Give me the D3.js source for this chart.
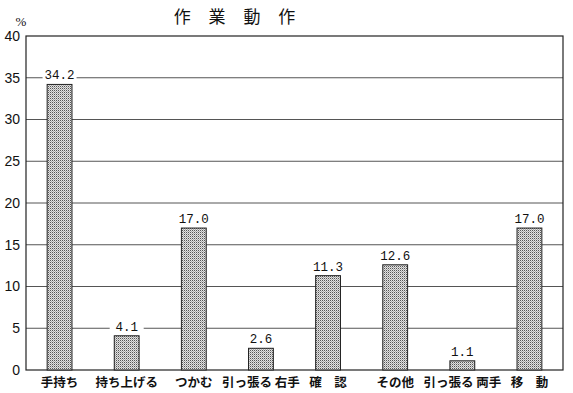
<!DOCTYPE html>
<html>
<head>
<meta charset="utf-8">
<script src="https://cdn.jsdelivr.net/npm/d3@7"></script>
<style>
  body { margin: 0; background: #fff; }
</style>
</head>
<body>
<div id="chart"></div>
<script>
const categories = ['手持ち', '持ち上げる', 'つかむ', '引っ張る 右手', '確　認', 'その他', '引っ張る 両手', '移　動'];
const values = [34.2, 4.1, 17.0, 2.6, 11.3, 12.6, 1.1, 17.0];
const yTicks = [0, 5, 10, 15, 20, 25, 30, 35, 40];
const title = '作 業 動 作';

const width = 573, height = 393;
const margin = {top: 36, right: 10, bottom: 23, left: 26};
const plotW = width - margin.left - margin.right;
const plotH = height - margin.top - margin.bottom;

const svg = d3.select('#chart').append('svg')
  .attr('width', width)
  .attr('height', height);

// dithered grey fill like the print
const defs = svg.append('defs');
const pat = defs.append('pattern')
  .attr('id', 'dots')
  .attr('width', 2).attr('height', 2)
  .attr('patternUnits', 'userSpaceOnUse');
pat.append('rect').attr('width', 2).attr('height', 2).attr('fill', '#e2e2e2');
pat.append('rect').attr('width', 1).attr('height', 1).attr('fill', '#555');
pat.append('rect').attr('x', 1).attr('y', 1).attr('width', 1).attr('height', 1).attr('fill', '#aaa');

const g = svg.append('g')
  .attr('transform', `translate(${margin.left},${margin.top})`);

const x = d3.scaleBand()
  .domain(categories)
  .range([0, plotW])
  .paddingInner(0.63)
  .paddingOuter(0.315);

const y = d3.scaleLinear()
  .domain([0, 40])
  .range([plotH, 0]);

// gridlines
g.append('g')
  .selectAll('line')
  .data(yTicks.filter(d => d > 0 && d < 40))
  .enter().append('line')
  .attr('x1', 0).attr('x2', plotW)
  .attr('y1', d => y(d)).attr('y2', d => y(d))
  .attr('stroke', '#555')
  .attr('stroke-width', 1);

// frame
g.append('rect')
  .attr('x', 0).attr('y', 0)
  .attr('width', plotW).attr('height', plotH)
  .attr('fill', 'none')
  .attr('stroke', '#222')
  .attr('stroke-width', 1.2);

// y axis
const yAxis = g.append('g')
  .call(d3.axisLeft(y).tickValues(yTicks).tickSize(0).tickPadding(6));
yAxis.select('.domain').remove();
yAxis.selectAll('text')
  .attr('font-family', 'Liberation Sans, Arial, sans-serif')
  .attr('font-size', 14)
  .attr('fill', '#111');

svg.append('text')
  .attr('x', 21).attr('y', 26)
  .attr('text-anchor', 'middle')
  .attr('font-family', 'Liberation Serif, serif')
  .attr('font-size', 13)
  .attr('fill', '#111')
  .text('%');

// bars
g.selectAll('.bar')
  .data(values)
  .enter().append('rect')
  .attr('class', 'bar')
  .attr('x', (d, i) => x(categories[i]))
  .attr('width', x.bandwidth())
  .attr('y', d => y(d))
  .attr('height', d => plotH - y(d))
  .attr('fill', 'url(#dots)')
  .attr('stroke', '#222')
  .attr('stroke-width', 1);

// value labels with white backing so gridlines break around them
const labels = g.selectAll('.val')
  .data(values)
  .enter().append('g')
  .attr('class', 'val')
  .attr('transform', (d, i) => `translate(${x(categories[i]) + x.bandwidth() / 2},${y(d) - 5})`);

labels.append('rect')
  .attr('x', -17).attr('y', -12)
  .attr('width', 34).attr('height', 14)
  .attr('fill', '#fff');

labels.append('text')
  .attr('text-anchor', 'middle')
  .attr('font-family', 'Liberation Mono, DejaVu Sans Mono, monospace')
  .attr('font-size', 12.5)
  .attr('fill', '#111')
  .text(d => d.toFixed(1));

// category labels
g.append('g')
  .selectAll('text')
  .data(categories)
  .enter().append('text')
  .attr('x', d => x(d) + x.bandwidth() / 2)
  .attr('y', plotH + 17)
  .attr('text-anchor', 'middle')
  .attr('font-family', 'Noto Sans CJK JP, sans-serif')
  .attr('font-size', 12.5)
  .attr('font-weight', 700)
  .attr('fill', '#111')
  .text(d => d);

// title
svg.append('text')
  .attr('x', 238).attr('y', 23)
  .attr('text-anchor', 'middle')
  .attr('font-family', 'Noto Sans CJK JP, sans-serif')
  .attr('font-size', 17)
  .attr('letter-spacing', '7px')
  .attr('fill', '#111')
  .text(title);
</script>
</body>
</html>
